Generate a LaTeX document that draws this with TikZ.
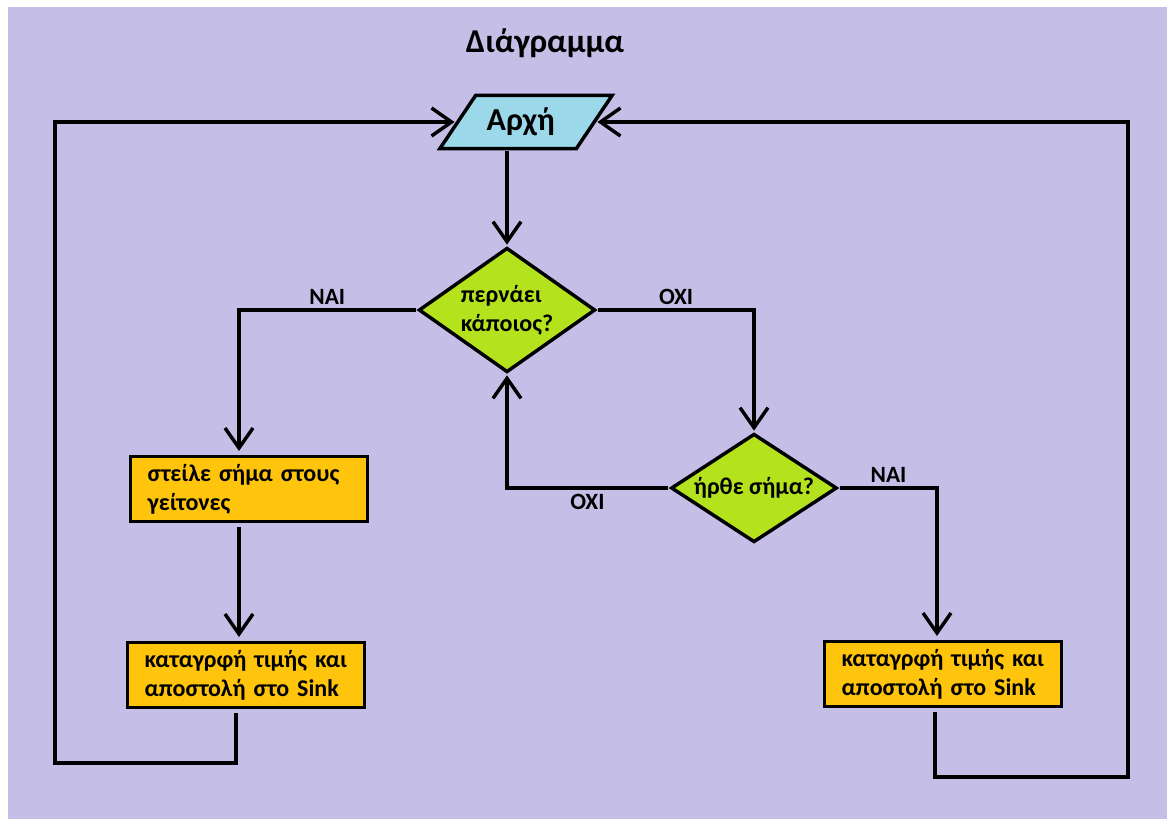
\documentclass[tikz,border=0pt]{standalone}
\usepackage{fontspec}
\setmainfont{Carlito}
\usetikzlibrary{shapes.geometric, arrows.meta}

\definecolor{lavender}{HTML}{C5BFE7}
\definecolor{startblue}{HTML}{9BD8E9}
\definecolor{askgreen}{HTML}{B4E31E}
\definecolor{doorange}{HTML}{FFC40C}

\tikzset{
	flow/.style={line width=2.6pt, -{Straight Barb[length=15pt, width=21pt, line width=2.6pt]}},
	link/.style={line width=2.6pt},
	startbox/.style={trapezium, trapezium left angle=54, trapezium right angle=126,
		trapezium stretches=true, draw, line width=2.6pt, fill=startblue,
		minimum width=130pt, minimum height=40pt, inner sep=0pt, outer sep=2pt,
		font=\fontsize{24}{28}\selectfont\bfseries},
	askbox/.style={diamond, draw, line width=2.6pt, fill=askgreen, inner sep=0pt,
		outer sep=2pt, align=left, font=\fontsize{18}{22}\selectfont\bfseries},
	dobox/.style={rectangle, draw, line width=2.6pt, fill=doorange,
		minimum width=178pt, minimum height=49pt, text width=152pt, inner xsep=13pt,
		outer sep=4pt, align=left, font=\fontsize{18}{22}\selectfont\bfseries},
	answer/.style={font=\fontsize{17.5}{20}\selectfont\bfseries, inner sep=3pt}
}

\begin{document}
\begin{tikzpicture}[x=.75pt, y=-.75pt]
	% page
	\useasboundingbox (0,0) rectangle (1167,819);
	\fill[white] (0,0) rectangle (1167,819);
	\fill[lavender] (8,7) rectangle (1167,819);

	\node[font=\fontsize{25}{30}\selectfont\bfseries] (title) at (545,43) {Διάγραμμα};

	% shapes
	\node[startbox] (start) at (526,122) {\hspace*{-8pt}Αρχή};
	\node[askbox, shape aspect=1.42, minimum width=133pt, minimum height=94pt] (q1) at (507,310) {περνάει\\κάποιος?};
	\node[askbox, shape aspect=1.52, minimum width=125pt, minimum height=82pt] (q2) at (754,488) {ήρθε σήμα?};
	\node[dobox] (box1) at (249,489) {στείλε σήμα στους\\γείτονες};
	\node[dobox] (box2) at (246,675) {καταγρφή τιμής και\\αποστολή στο Sink};
	\node[dobox] (box3) at (943,674) {καταγρφή τιμής και\\αποστολή στο Sink};

	% helper coordinates
	\coordinate (leftx) at (239,0);
	\coordinate (rightx) at (937,0);
	\coordinate (loopL) at (55,763);
	\coordinate (loopR) at (1128,777);

	% connectors
	\draw[flow] (start.south -| q1.north) -- (q1.north);
	\draw[flow] (q1.west) -| (box1.north -| leftx) node[answer, pos=.25, above] {NAI};
	\draw[flow] (q1.east) -| (q2.north) node[answer, pos=.25, above] {OXI};
	\draw[flow] (box1.south -| leftx) -- (box2.north -| leftx);
	\draw[flow] (q2.west) -| (q1.south) node[answer, pos=.25, below] {OXI};
	\draw[flow] (q2.east) -| (box3.north -| rightx) node[answer, pos=.25, above] {NAI};
	\draw[flow] (box2.south -| 236,0) |- (loopL) |- (start.west);
	\draw[flow] (box3.south -| 935,0) |- (loopR) |- (start.east);
\end{tikzpicture}
\end{document}
